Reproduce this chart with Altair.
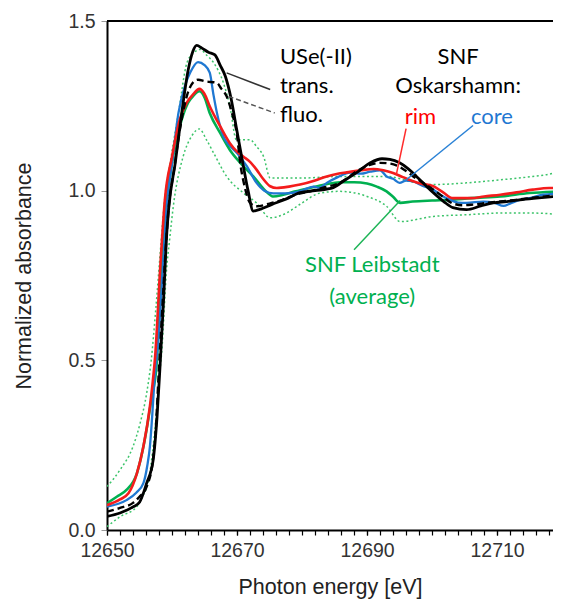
import altair as alt
import pandas as pd

# ---------------- data ----------------
trans_E = [12650.0, 12652.0, 12654.0, 12655.0, 12656.1, 12657.1, 12657.7, 12658.15, 12658.7, 12659.2,
           12659.5, 12660.5, 12661.5, 12662.5, 12663.2, 12663.8, 12664.6, 12665.6, 12666.6, 12667.4,
           12668.2, 12669.1, 12669.95, 12670.9, 12671.7, 12672.5, 12673.5, 12675.3, 12677.5, 12679.7,
           12682.0, 12684.8, 12686.5, 12688.4, 12690.5, 12692.3, 12693.5, 12695.0, 12696.3, 12697.6,
           12700.2, 12701.8, 12703.2, 12705.3, 12707.5, 12709.4, 12711.5, 12713.5, 12716.0, 12720.0]
trans_A = [0.040, 0.050, 0.068, 0.082, 0.138, 0.206, 0.334, 0.480, 0.678, 0.876,
           0.950, 1.082, 1.230, 1.357, 1.410, 1.428, 1.420, 1.408, 1.400, 1.370,
           1.337, 1.270, 1.180, 1.080, 1.000, 0.940, 0.945, 0.959, 0.975, 0.994,
           1.000, 1.009, 1.030, 1.053, 1.082, 1.094, 1.092, 1.082, 1.065, 1.042,
           0.994, 0.968, 0.950, 0.944, 0.955, 0.964, 0.968, 0.973, 0.978, 0.985]

fluo_E = [12650.0, 12652.0, 12654.0, 12655.0, 12656.1, 12657.0, 12657.5, 12657.9, 12658.5, 12659.0,
          12659.5, 12660.3, 12661.3, 12662.3, 12663.2, 12664.0, 12665.2, 12666.9, 12667.6, 12668.4,
          12669.2, 12669.95, 12670.5, 12671.2, 12672.0, 12673.0, 12675.0, 12677.0, 12679.0, 12681.2,
          12683.5, 12685.8, 12687.2, 12688.4, 12690.3, 12692.0, 12693.5, 12694.6, 12696.0, 12697.1,
          12698.7, 12700.2, 12701.7, 12703.2, 12704.8, 12706.3, 12708.5, 12710.5, 12713.0, 12715.5,
          12720.0]
fluo_A = [0.054, 0.065, 0.080, 0.098, 0.128, 0.197, 0.295, 0.442, 0.650, 0.820,
          0.950, 1.060, 1.190, 1.280, 1.318, 1.327, 1.322, 1.318, 1.300, 1.278,
          1.230, 1.170, 1.080, 1.010, 0.964, 0.954, 0.962, 0.973, 0.988, 0.998,
          1.010, 1.023, 1.040, 1.057, 1.075, 1.082, 1.080, 1.074, 1.058, 1.042,
          1.022, 1.003, 0.982, 0.962, 0.957, 0.959, 0.964, 0.968, 0.973, 0.979,
          0.988]

rim_E = [12650.0, 12652.0, 12653.3, 12654.6, 12655.6, 12656.6, 12657.0, 12657.4, 12658.2, 12658.9,
         12660.0, 12661.2, 12662.3, 12663.3, 12664.2, 12665.0, 12665.8, 12667.4, 12668.9, 12670.0,
         12671.0, 12672.0, 12673.0, 12674.0, 12675.1, 12676.1, 12678.0, 12679.7, 12682.0, 12683.8,
         12685.5, 12686.9, 12689.0, 12691.0, 12692.5, 12694.0, 12695.5, 12697.1, 12698.5, 12700.2,
         12701.7, 12703.2, 12706.0, 12708.0, 12710.5, 12713.0, 12715.5, 12718.0, 12720.0]
rim_A = [0.073, 0.090, 0.108, 0.167, 0.246, 0.364, 0.430, 0.510, 0.777, 0.973,
         1.100, 1.210, 1.260, 1.285, 1.300, 1.285, 1.249, 1.190, 1.140, 1.115,
         1.100, 1.085, 1.062, 1.035, 1.013, 1.008, 1.012, 1.018, 1.030, 1.042,
         1.050, 1.054, 1.060, 1.064, 1.060, 1.052, 1.040, 1.028, 1.020, 1.013,
         0.995, 0.978, 0.978, 0.983, 0.988, 0.995, 1.003, 1.008, 1.008]

core_E = [12650.0, 12653.0, 12654.5, 12655.6, 12656.2, 12656.6, 12657.0, 12657.3, 12657.9, 12658.6,
          12659.2, 12660.0, 12661.0, 12662.0, 12662.8, 12664.0, 12665.0, 12665.8, 12666.4, 12666.9,
          12667.9, 12669.0, 12669.95, 12671.5, 12673.0, 12674.2, 12675.6, 12677.5, 12679.7, 12681.8,
          12682.6, 12683.8, 12685.5, 12687.4, 12689.0, 12690.5, 12692.0, 12693.0, 12694.0, 12695.0,
          12696.0, 12697.1, 12698.5, 12700.2, 12701.5, 12702.8, 12704.0, 12705.3, 12707.9, 12709.5,
          12711.0, 12712.0, 12713.5, 12715.0, 12717.0, 12720.0]
core_A = [0.069, 0.088, 0.110, 0.138, 0.190, 0.246, 0.350, 0.442, 0.560, 0.777,
          0.960, 1.080, 1.230, 1.310, 1.348, 1.379, 1.370, 1.348, 1.280, 1.230,
          1.160, 1.130, 1.112, 1.072, 1.023, 1.000, 0.992, 0.992, 0.998, 1.012,
          1.008, 1.023, 1.040, 1.053, 1.050, 1.056, 1.060, 1.042, 1.035, 1.023,
          1.030, 1.027, 1.015, 1.003, 0.985, 0.973, 0.965, 0.964, 0.968, 0.965,
          0.955, 0.962, 0.973, 0.978, 0.988, 0.992]

leib_E = [12650.0, 12651.5, 12653.0, 12654.6, 12655.8, 12656.9, 12657.6, 12658.4, 12659.2, 12660.0,
          12661.5, 12662.5, 12663.3, 12664.2, 12665.0, 12665.8, 12667.4, 12668.9, 12670.5, 12672.5,
          12674.6, 12675.5, 12677.1, 12679.0, 12681.2, 12683.5, 12685.8, 12688.0, 12690.0, 12691.5,
          12693.0, 12694.0, 12695.1, 12697.0, 12700.0, 12702.8, 12706.0, 12710.5, 12715.0, 12720.0]
leib_A = [0.079, 0.098, 0.118, 0.167, 0.265, 0.393, 0.480, 0.777, 0.973, 1.082,
          1.210, 1.260, 1.280, 1.293, 1.275, 1.229, 1.170, 1.120, 1.082, 1.042,
          0.995, 0.983, 0.988, 0.998, 1.008, 1.018, 1.025, 1.025, 1.021, 1.012,
          0.998, 0.982, 0.964, 0.968, 0.971, 0.973, 0.978, 0.983, 0.993, 0.998]

upper_E = [12650.0, 12652.0, 12654.0, 12655.1, 12656.1, 12656.8, 12657.5, 12658.2, 12658.9, 12659.7,
           12661.0, 12662.3, 12663.3, 12664.3, 12665.3, 12666.4, 12667.9, 12668.9, 12669.9, 12670.9,
           12672.0, 12673.0, 12674.1, 12675.1, 12679.7, 12685.8, 12693.0, 12697.6, 12700.2, 12705.3,
           12710.5, 12715.5, 12718.7, 12720.0]
upper_A = [0.128, 0.177, 0.246, 0.315, 0.403, 0.500, 0.650, 0.820, 0.980, 1.080,
           1.230, 1.377, 1.405, 1.416, 1.400, 1.377, 1.318, 1.249, 1.150, 1.150,
           1.150, 1.130, 1.100, 1.037, 1.037, 1.042, 1.042, 1.023, 1.018, 1.023,
           1.032, 1.042, 1.052, 1.080]

lower_E = [12650.0, 12652.0, 12654.6, 12655.5, 12656.4, 12657.1, 12657.6, 12658.0, 12658.4, 12659.2,
           12659.6, 12660.2, 12661.7, 12663.0, 12664.2, 12665.3, 12666.4, 12668.4, 12671.0, 12673.0,
           12675.1, 12677.6, 12679.7, 12682.8, 12685.8, 12690.0, 12693.0, 12695.1, 12700.2, 12705.3,
           12710.5, 12715.5, 12720.0]
lower_A = [0.010, 0.039, 0.069, 0.100, 0.147, 0.246, 0.345, 0.442, 0.520, 0.777,
           0.850, 0.954, 1.100, 1.160, 1.182, 1.150, 1.111, 1.042, 0.993, 0.964,
           0.920, 0.934, 0.960, 0.993, 0.998, 0.983, 0.954, 0.909, 0.924, 0.929,
           0.934, 0.934, 0.929]

# annotation leader lines (E1, A1, E2, A2)
lead_names = ["trans", "fluo", "rim", "core", "leib"]
lead_E1 = [12668.4, 12668.7, 12696.0, 12706.3, 12688.0]
lead_A1 = [1.347, 1.278, 1.183, 1.192, 0.826]
lead_E2 = [12675.1, 12675.8, 12694.5, 12695.7, 12695.1]
lead_A2 = [1.298, 1.229, 1.047, 1.027, 0.971]

# text labels
lab_text = ["USe(-II)", "trans.", "fluo.", "SNF", "Oskarshamn:", "rim", "core", "SNF Leibstadt", "(average)"]
lab_E = [12676.6, 12676.6, 12676.6, 12704.0, 12704.0, 12698.2, 12709.2, 12690.8, 12690.8]
lab_A = [1.395, 1.307, 1.224, 1.395, 1.307, 1.218, 1.218, 0.782, 0.687]
lab_align = ["left", "left", "left", "center", "center", "center", "center", "center", "center"]
lab_color = ["#000000", "#000000", "#000000", "#000000", "#000000", "#ff0000", "#1f78d2", "#00b050", "#00b050"]

x_major = [12650, 12670, 12690, 12710]
x_minor = list(range(12650, 12721, 2))
y_ticks = [0, 0.5, 1.0, 1.5]

# ---------------- chart ----------------
XMIN, XMAX = 12650, 12718.6
W, H = 446, 509

xscale = alt.Scale(domain=[XMIN, XMAX], nice=False, zero=False)
yscale = alt.Scale(domain=[0, 1.5], nice=False)

xaxis = alt.Axis(values=x_major, format="d", orient="bottom",
                 title="Photon energy [eV]", grid=False, tickSize=5, tickColor="#000",
                 tickWidth=1.2, domainColor="#000", domainWidth=2, labelPadding=6,
                 labelFontSize=19.5, labelColor="#333", titleFontSize=21.5, titleColor="#222",
                 titleFontWeight="normal", titlePadding=17, labelFont="Liberation Sans",
                 titleFont="Liberation Sans", labelFlush=False, labelOverlap=False)
xaxis_minor = alt.Axis(values=x_minor, orient="bottom", labels=False, domain=False, grid=False,
                       title=None, tickSize=5, tickColor="#000", tickWidth=1.2)
yaxis = alt.Axis(values=y_ticks, format=".1f", title="Normalized absorbance", grid=False,
                 tickSize=6, tickColor="#999", tickWidth=1, domainColor="#000", domainWidth=2,
                 labelPadding=6, labelFontSize=19.5, labelColor="#333", titleFontSize=21.5,
                 titleColor="#222", titleFontWeight="normal", titlePadding=32,
                 labelFont="Liberation Sans", titleFont="Liberation Sans", labelFlush=False,
                 labelOverlap=False)


def series(E, A):
    return pd.DataFrame({"E": E, "A": A})


def line(df, color, width, dash=None, xax=None, yax=None):
    kw = dict(color=color, strokeWidth=width, clip=True, interpolate="monotone")
    if dash:
        kw["strokeDash"] = dash
    m = alt.Chart(df).mark_line(**kw)
    xe = alt.X("E:Q", scale=xscale, axis=xax) if xax is not None else alt.X("E:Q", scale=xscale, axis=None)
    ye = alt.Y("A:Q", scale=yscale, axis=yax) if yax is not None else alt.Y("A:Q", scale=yscale)
    return m.encode(x=xe, y=ye)


green_dot = "#3cc46a"
layers = [
    line(series(lower_E, lower_A), green_dot, 1.5, [2, 2.5], xax=xaxis, yax=yaxis),
    line(series(upper_E, upper_A), green_dot, 1.5, [2, 2.5], xax=xaxis_minor),
    line(series(leib_E, leib_A), "#00b050", 2.6),
    line(series(core_E, core_A), "#1f78d2", 2.3),
    line(series(rim_E, rim_A), "#f41c1c", 2.6),
    line(series(fluo_E, fluo_A), "#000000", 2.4, [7, 4]),
    line(series(trans_E, trans_A), "#000000", 2.8),
]

lead = pd.DataFrame({"name": lead_names, "E1": lead_E1, "A1": lead_A1, "E2": lead_E2, "A2": lead_A2,
                     "col": ["#333333", "#555555", "#ff2a2a", "#2a82d6", "#1cb456"]})
lead_solid = alt.Chart(lead[lead.name != "fluo"]).mark_rule(strokeWidth=1.5).encode(
    x=alt.X("E1:Q", scale=xscale, axis=None), y=alt.Y("A1:Q", scale=yscale), x2="E2:Q", y2="A2:Q",
    color=alt.Color("col:N", scale=None))
lead_dash = alt.Chart(lead[lead.name == "fluo"]).mark_rule(strokeWidth=1.5, strokeDash=[5, 3]).encode(
    x=alt.X("E1:Q", scale=xscale, axis=None), y=alt.Y("A1:Q", scale=yscale), x2="E2:Q", y2="A2:Q",
    color=alt.Color("col:N", scale=None))

labels = pd.DataFrame({"t": lab_text, "E": lab_E, "A": lab_A, "al": lab_align, "c": lab_color})
text_left = alt.Chart(labels[labels.al == "left"]).mark_text(
    align="left", baseline="middle", font="Lato", fontSize=22).encode(
    x=alt.X("E:Q", scale=xscale, axis=None), y=alt.Y("A:Q", scale=yscale), text="t:N",
    color=alt.Color("c:N", scale=None))
text_center = alt.Chart(labels[labels.al == "center"]).mark_text(
    align="center", baseline="middle", font="Lato", fontSize=22).encode(
    x=alt.X("E:Q", scale=xscale, axis=None), y=alt.Y("A:Q", scale=yscale), text="t:N",
    color=alt.Color("c:N", scale=None))

top_frame = alt.Chart(pd.DataFrame({"v": [0]})).mark_rule(color="#000", strokeWidth=2).encode(
    x=alt.value(0), x2=alt.value(W), y=alt.value(0))

chart = alt.layer(*layers, lead_solid, lead_dash, text_left, text_center, top_frame).resolve_axis(
    x="independent"
).properties(
    width=W, height=H,
    autosize=alt.AutoSizeParams(type="none"),
    padding={"left": 99, "top": 13, "right": 0, "bottom": 70},
).configure_view(stroke=None).configure(background="white")

chart.save("out.html", embed_options={"renderer": "svg", "actions": False})
